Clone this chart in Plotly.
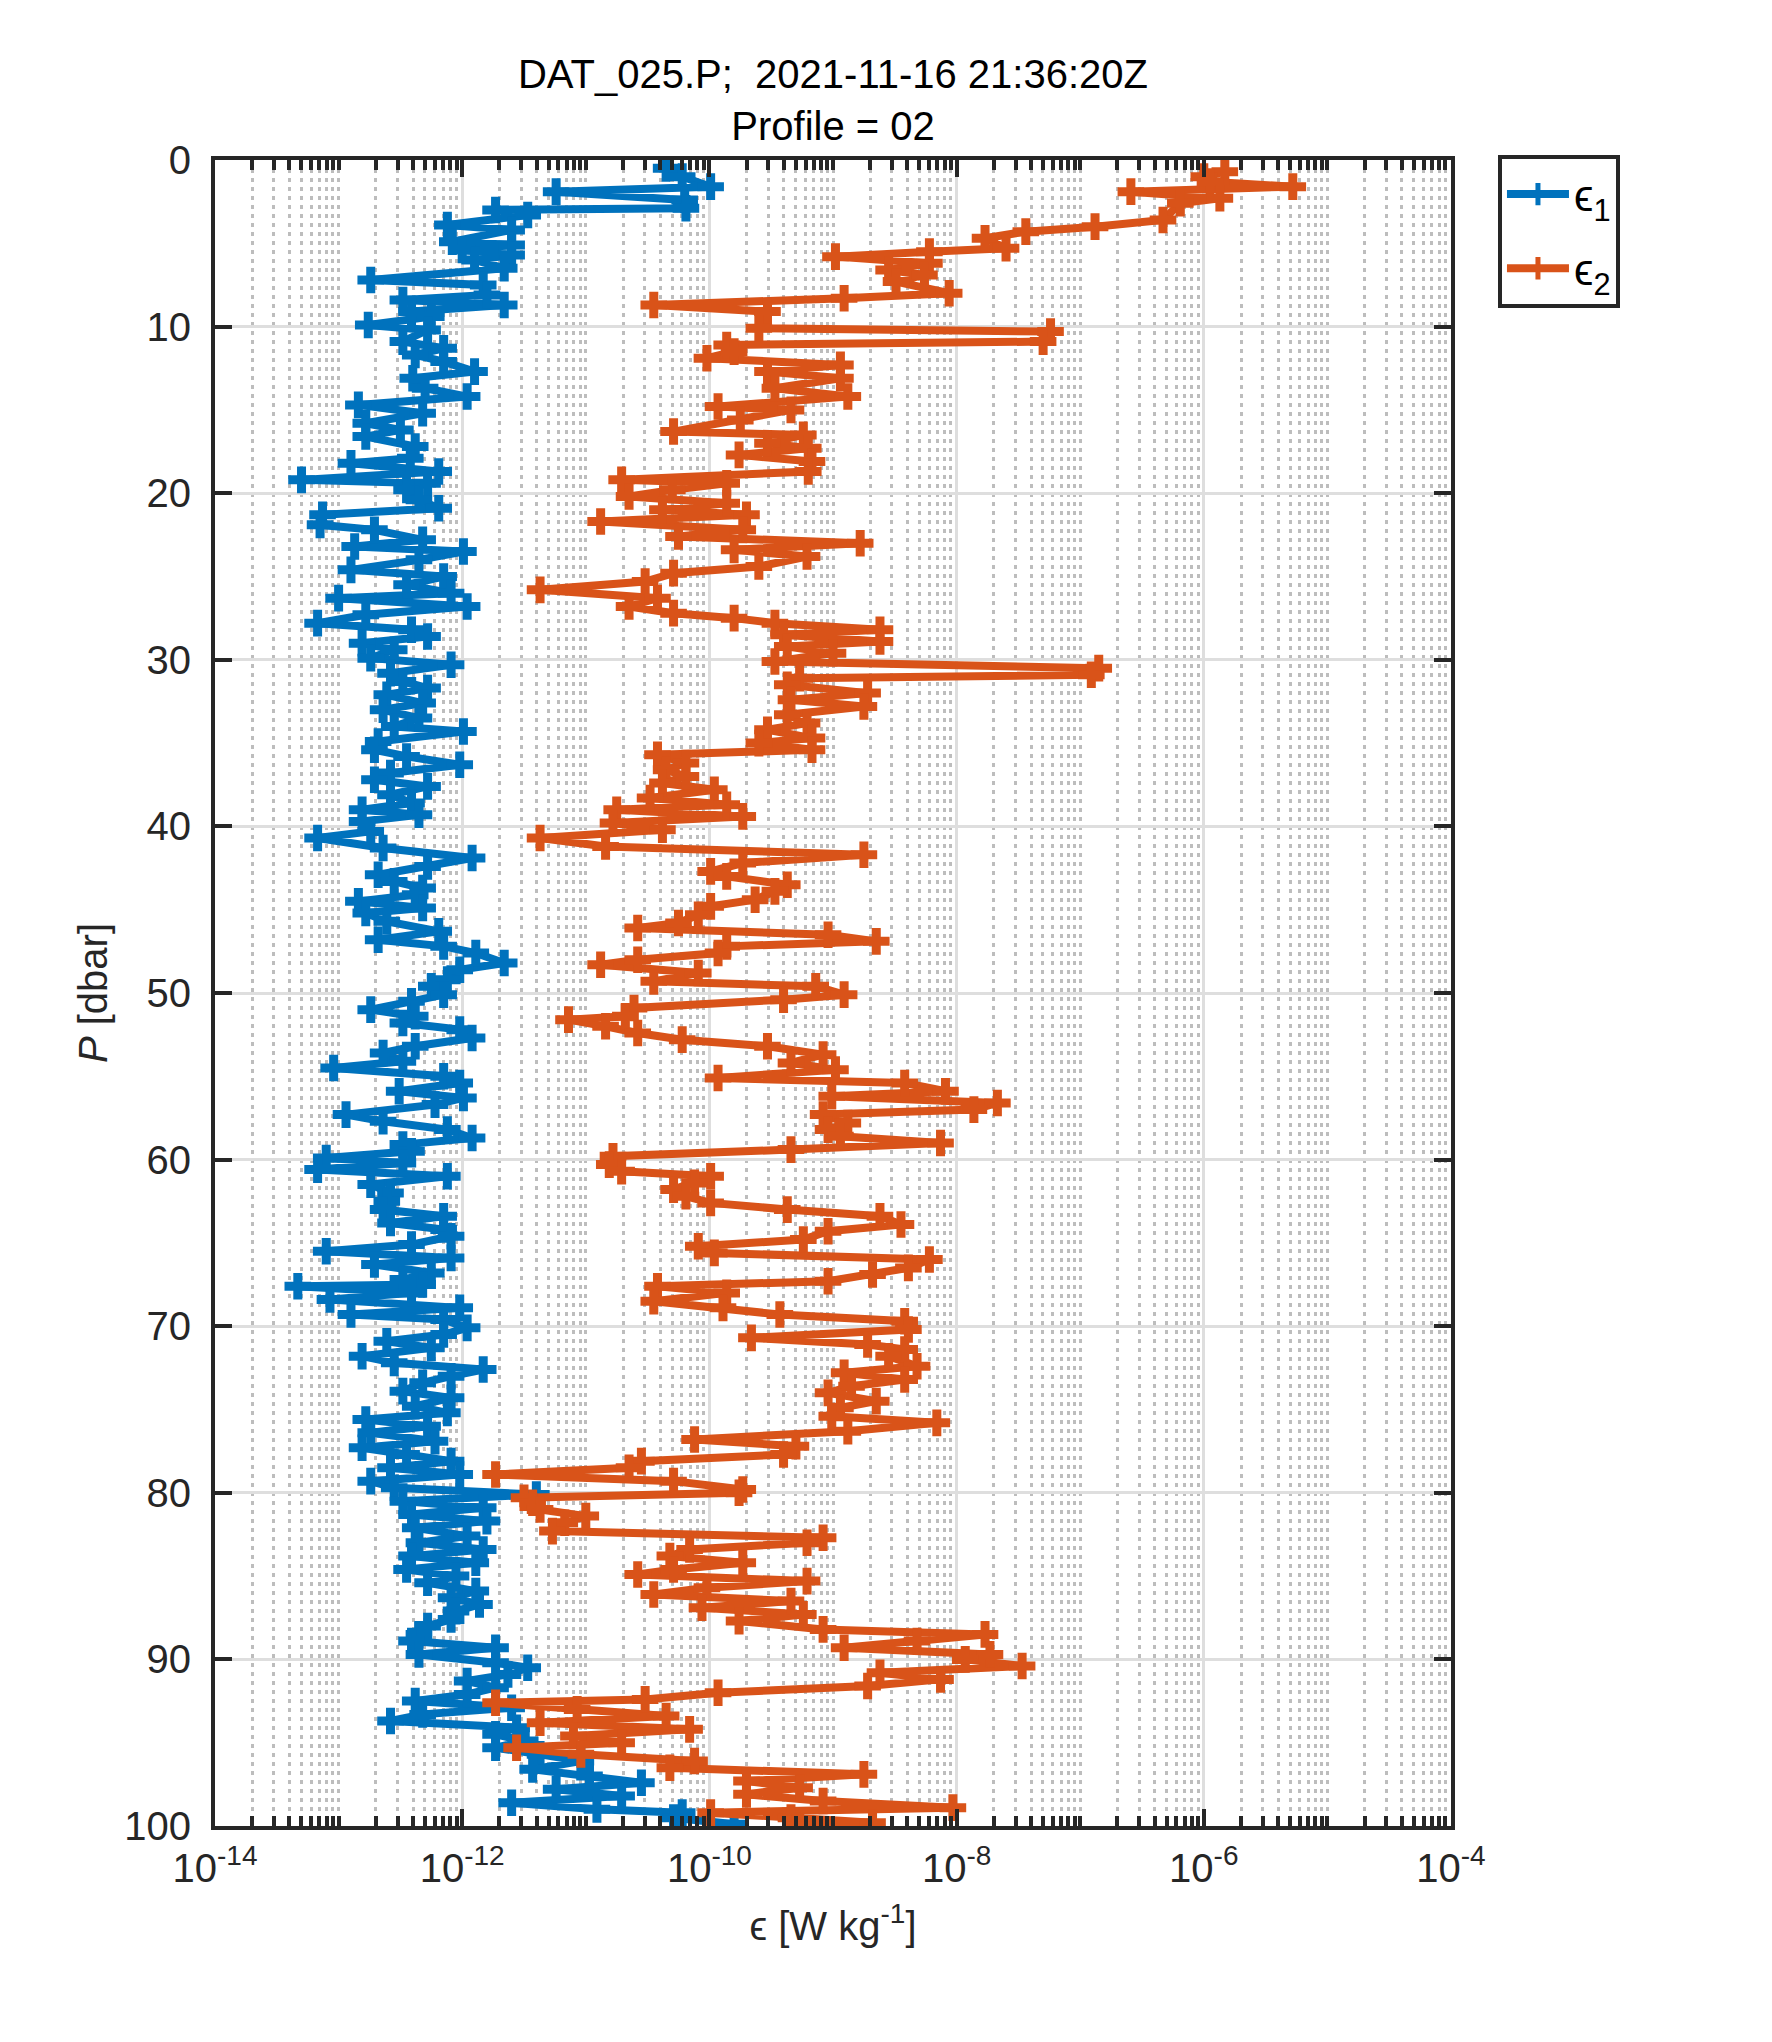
import plotly.graph_objects as go

# Shear probe 1: pressure [dbar] and log10 of epsilon [W/kg]
p1 = [0.5, 1.0, 1.6, 1.9, 2.4, 2.9, 3.0, 3.3, 3.9, 4.2, 4.9, 5.1, 5.4, 5.7, 6.0, 6.5, 7.2, 7.5, 8.1, 8.4,
      8.7, 9.1, 9.4, 9.9, 10.2, 10.9, 11.3, 11.7, 12.1, 12.7, 13.1, 13.7, 14.2, 14.7, 15.2, 15.8, 16.2, 16.6, 17.2, 17.9,
      18.2, 18.7, 19.2, 19.4, 19.8,
      20.4, 20.9, 21.3, 21.9, 22.2, 22.8, 23.2, 23.5, 24.0, 24.6, 25.0, 25.5, 26.0, 26.3, 26.8, 27.3, 27.8, 28.2, 28.6, 29.0,
      29.4, 29.9, 30.3, 30.8, 31.3, 31.7, 32.1, 32.6, 33.0, 33.5, 34.0, 34.3, 34.9, 35.4, 35.8, 36.3, 36.8, 37.2, 37.6, 38.1,
      38.6, 39.0, 39.3, 39.7,
      40.3, 40.7, 41.3, 41.9, 42.4, 42.9, 43.3, 43.7, 44.1, 44.5, 44.9, 45.2, 45.7, 46.3, 46.8, 47.2, 47.6, 48.2, 48.6, 49.2,
      49.6, 50.1, 50.5, 51.0, 51.4, 51.8, 52.2, 52.7, 53.2, 53.6, 54.1, 54.5, 55.0, 55.4, 55.9, 56.3, 56.7, 57.3, 57.7, 58.2,
      58.7, 59.1, 59.5, 59.9,
      60.2, 60.6, 61.0, 61.5, 62.0, 62.5, 63.0, 63.4, 63.8, 64.2, 64.6, 65.1, 65.5, 65.9, 66.3, 66.8, 67.2, 67.5, 67.6, 68.0,
      68.4, 68.9, 69.3, 69.6, 70.1, 70.5, 70.9, 71.3, 71.8, 72.2, 72.6, 73.0, 73.4, 73.9, 74.3, 74.8, 75.2, 75.6, 76.0, 76.4,
      76.9, 77.3, 77.7, 78.1, 78.5, 78.9, 79.3, 79.7, 80.1,
      80.5, 80.9, 81.3, 81.7, 82.1, 82.6, 83.0, 83.4, 83.8, 84.2, 84.6, 85.0, 85.4, 85.9, 86.3, 86.7, 87.1, 87.6, 88.0, 88.5,
      88.9, 89.3, 89.7, 90.2, 90.5, 90.9, 91.3, 91.7, 92.1, 92.5, 92.9, 93.3, 93.7, 94.1, 94.5, 94.9, 95.3, 95.7, 96.1, 96.6,
      97.0, 97.4, 97.8, 98.2, 98.6, 99.0, 99.2, 99.5, 99.9]
log_eps1 = [-10.35, -10.22, -9.99, -11.24, -10.2, -10.19, -11.73, -11.47, -12.12, -11.6, -12.08, -11.6, -12.0, -11.6, -11.9, -11.66, -12.74, -11.83, -11.8, -12.48,
            -11.66, -12.41, -12.25, -12.76, -12.28, -12.48, -12.15, -12.38, -12.15, -11.9, -12.4, -12.3, -11.96, -12.84, -12.32, -12.78, -12.5, -12.78, -12.38, -12.42,
            -12.9, -12.19, -13.3, -12.28, -12.45,
            -12.35, -12.19, -13.13, -13.15, -12.71, -12.32, -12.87, -11.99, -12.35, -12.9, -12.15, -12.45, -12.09, -13.0, -11.96, -12.78, -13.17, -12.41, -12.28, -12.81,
            -12.55, -12.74, -12.09, -12.58, -12.48, -12.28, -12.61, -12.32, -12.64, -12.35, -12.55, -11.99, -12.68, -12.71, -12.45, -12.02, -12.58, -12.71, -12.28, -12.58,
            -12.41, -12.81, -12.35, -12.81,
            -12.74, -13.17, -12.64, -11.92, -12.28, -12.68, -12.55, -12.32, -12.38, -12.84, -12.32, -12.78, -12.61, -12.19, -12.68, -12.15, -11.89, -11.66, -12.02, -12.12,
            -12.25, -12.15, -12.41, -12.74, -12.38, -12.48, -12.02, -11.92, -12.38, -12.64, -12.48, -13.04, -12.15, -12.02, -12.51, -11.99, -12.22, -12.94, -12.64, -12.12,
            -11.92, -12.48, -12.41, -13.1,
            -12.48, -13.17, -12.12, -12.74, -12.58, -12.61, -12.64, -12.15, -12.58, -12.15, -12.09, -12.41, -13.1, -12.09, -12.71, -12.25, -12.48, -12.32, -13.33, -12.41,
            -13.07, -12.02, -12.9, -12.15, -11.96, -12.15, -12.61, -12.25, -12.81, -12.55, -11.83, -12.09, -12.32, -12.48, -12.09, -12.38, -12.12, -12.78, -12.28, -12.74,
            -12.22, -12.81, -12.45, -12.09, -12.58, -12.02, -12.74, -12.55, -11.4,
            -12.48, -11.83, -12.41, -11.8, -12.38, -11.96, -12.35, -11.83, -12.41, -11.89, -12.45, -12.05, -12.28, -11.89, -12.09, -11.86, -12.05, -12.09, -12.28, -12.35,
            -12.41, -11.73, -12.35, -11.73, -11.47, -11.63, -11.96, -11.73, -11.96, -12.38, -11.6, -12.32, -12.58, -11.56, -11.73, -11.49, -11.73, -11.37, -11.04, -11.43,
            -10.97, -10.55, -11.24, -10.71, -11.6, -10.91, -10.22, -10.29, -9.8]

# Shear probe 2
p2 = [0.7, 1.0, 1.3, 1.6, 1.9, 2.3, 2.6, 3.6, 4.0, 4.3, 4.7, 5.3, 5.5, 5.8, 6.2, 6.6, 6.9, 7.3, 8.0, 8.3,
      8.7, 9.1, 10.1, 10.3, 10.9, 11.1, 11.5, 11.9, 12.3, 12.7, 13.1, 13.7, 14.2, 14.8, 15.0, 15.6, 16.3, 16.5, 17.0, 17.3,
      17.7, 18.1, 18.7, 19.2, 19.4, 19.8,
      20.2, 20.6, 21.0, 21.3, 21.7, 22.2, 22.6, 23.0, 23.4, 23.8, 24.4, 24.8, 25.3, 25.8, 26.3, 26.8, 27.2, 27.5, 27.8, 28.2,
      28.5, 28.9, 29.2, 29.6, 30.1, 30.5, 30.9, 31.1, 31.5, 32.0, 32.4, 32.8, 33.3, 33.8, 34.2, 34.7, 35.0, 35.4, 35.7, 36.2,
      36.6, 37.0, 37.4, 37.8, 38.3, 38.7, 39.0, 39.4, 39.8,
      40.2, 40.7, 41.2, 41.7, 42.2, 42.7, 43.0, 43.5, 43.9, 44.4, 44.8, 45.3, 45.8, 46.1, 46.5, 46.9, 47.2, 47.6, 48.0, 48.3,
      48.8, 49.3, 49.6, 50.1, 50.4, 50.9, 51.4, 51.6, 52.0, 52.4, 52.8, 53.2, 53.7, 54.2, 54.6, 55.1, 55.4, 55.9, 56.2, 56.6,
      57.0, 57.3, 57.8, 58.2, 58.6, 59.0, 59.4, 59.8,
      60.3, 60.7, 61.0, 61.4, 61.8, 62.2, 62.6, 63.0, 63.4, 63.9, 64.3, 64.8, 65.2, 65.6, 66.0, 66.5, 66.9, 67.3, 67.6, 68.0,
      68.5, 68.9, 69.3, 69.7, 70.2, 70.7, 71.1, 71.4, 71.8, 72.4, 72.8, 73.2, 73.6, 74.0, 74.5, 74.9, 75.4, 75.8, 76.3, 76.8,
      77.2, 77.7, 78.1, 78.5, 78.9, 79.3, 79.8,
      80.0, 80.3, 80.6, 81.0, 81.4, 81.8, 82.3, 82.7, 83.0, 83.4, 83.8, 84.2, 84.6, 84.9, 85.3, 85.7, 86.1, 86.5, 86.9, 87.3,
      87.7, 88.2, 88.5, 88.9, 89.3, 89.7, 90.0, 90.4, 90.8, 91.2, 91.6, 92.0, 92.4, 92.6, 93.0, 93.4, 93.8, 94.2, 94.6, 95.0,
      95.3, 95.7, 96.1, 96.5, 96.9, 97.3, 97.7, 98.1, 98.5, 98.9, 99.2, 99.5, 99.8, 100.0]
log_eps2 = [-5.83, -6.0, -5.95, -5.28, -6.59, -5.87, -6.19, -6.33, -6.88, -7.44, -7.77, -7.6, -8.22, -8.98, -8.22, -8.55, -8.26, -8.49, -8.06, -8.91,
            -10.45, -9.53, -9.6, -7.24, -7.3, -9.86, -9.8, -10.02, -8.94, -9.53, -8.94, -9.47, -8.88, -9.93, -9.34, -9.75, -10.29, -9.24, -9.53, -9.2,
            -9.76, -9.17, -9.2, -10.71, -9.86, -10.3,
            -10.65, -9.86, -10.38, -9.7, -10.88, -9.73, -10.25, -8.78, -9.8, -9.21, -9.6, -10.29, -10.52, -11.37, -10.42, -10.65, -10.29, -9.8, -9.47, -8.62,
            -9.4, -8.62, -9.37, -9.0, -9.47, -6.85, -6.91, -9.27, -9.37, -8.72, -9.34, -8.75, -9.37, -9.21, -9.53, -9.17, -9.6, -9.17, -10.42, -10.19,
            -10.35, -10.19, -10.38, -9.96, -10.48, -9.86, -10.75, -9.73, -10.78,
            -10.38, -11.37, -10.84, -8.75, -9.73, -9.99, -9.86, -9.37, -9.47, -9.63, -9.99, -10.09, -10.25, -10.58, -9.04, -8.65, -9.86, -9.93, -10.58, -10.88,
            -10.09, -10.45, -9.14, -8.91, -9.4, -10.61, -10.68, -11.14, -10.84, -10.58, -10.22, -9.53, -9.08, -9.34, -8.98, -9.93, -8.42, -8.09, -9.01, -7.67,
            -7.86, -9.08, -8.88, -9.04, -8.94, -8.13, -9.34, -10.78,
            -10.81, -10.71, -9.99, -10.12, -10.29, -10.19, -9.99, -9.37, -8.62, -8.45, -9.04, -9.24, -10.09, -9.96, -8.22, -8.39, -8.68, -9.04, -10.42, -9.86,
            -10.45, -9.89, -9.43, -8.42, -8.39, -9.66, -8.72, -8.42, -8.55, -8.32, -8.91, -8.42, -8.85, -9.04, -8.65, -8.94, -9.01, -8.16, -8.88, -10.12,
            -9.3, -9.4, -10.55, -10.65, -11.73, -10.29, -9.73,
            -9.76, -11.5, -11.43, -11.37, -11.0, -11.17, -11.27, -9.08, -9.21, -10.16, -10.32, -9.73, -10.29, -10.58, -9.21, -10.02, -10.45, -9.34, -10.06, -9.24,
            -9.76, -9.08, -7.77, -8.32, -8.91, -7.73, -7.93, -7.47, -8.62, -8.13, -8.72, -9.93, -10.52, -11.73, -11.07, -10.35, -11.37, -10.16, -11.1, -10.71,
            -11.56, -11.04, -10.12, -10.32, -8.75, -9.7, -9.27, -9.7, -9.08, -8.03, -9.99, -9.34, -8.68, -9.3]

eps1 = [10 ** v for v in log_eps1]
eps2 = [10 ** v for v in log_eps2]

x_tickvals = [1e-14, 1e-12, 1e-10, 1e-8, 1e-6, 1e-4]
x_ticktext = ['10<sup>-14</sup>', '10<sup>-12</sup>', '10<sup>-10</sup>',
              '10<sup>-8</sup>', '10<sup>-6</sup>', '10<sup>-4</sup>']

blue = '#0072BD'
orange = '#D95319'
axis_col = '#262626'

fig = go.Figure()
fig.add_trace(go.Scatter(
    x=eps1, y=p1, mode='lines+markers', name='ϵ<sub>1</sub>', legendgroup='a',
    line=dict(color=blue, width=8),
    marker=dict(symbol='cross-thin', size=19, line=dict(color=blue, width=9)),
))
fig.add_trace(go.Scatter(
    x=eps2, y=p2, mode='lines+markers', name='ϵ<sub>2</sub>', legendgroup='b',
    line=dict(color=orange, width=8),
    marker=dict(symbol='cross-thin', size=19, line=dict(color=orange, width=9)),
))

fig.update_layout(
    width=1772, height=2042,
    margin=dict(l=207, r=329, t=152, b=224),
    paper_bgcolor='white', plot_bgcolor='white',
    font=dict(family='Liberation Sans, Arial, sans-serif', size=40, color=axis_col),
    title=dict(
        text='DAT_025.P;  2021-11-16 21:36:20Z<br>Profile = 02',
        x=0.5, xanchor='center', xref='paper',
        y=0.961, yanchor='top', yref='container',
        font=dict(size=40, color='black'),
    ),
    legend=dict(
        x=1.038, y=1.003, xanchor='left', yanchor='top',
        bordercolor=axis_col, borderwidth=4, bgcolor='white',
        font=dict(size=44, color='black'),
        itemwidth=62, tracegroupgap=14,
    ),
)

fig.update_xaxes(
    type='log', range=[-14, -4],
    tickvals=x_tickvals, ticktext=x_ticktext,
    ticks='inside', ticklen=17, tickwidth=4, tickcolor=axis_col,
    showline=True, linecolor=axis_col, linewidth=4, mirror='allticks',
    showgrid=True, gridcolor='#dedede', gridwidth=2.5,
    zeroline=False, ticklabelstandoff=4,
    minor=dict(dtick='D1', ticks='inside', ticklen=10, tickwidth=4, tickcolor=axis_col,
               showgrid=True, gridcolor='#bdbdbd', gridwidth=2.5, griddash='4px,5px'),
    title=dict(text='ϵ [W kg<sup>-1</sup>]', font=dict(size=40), standoff=24),
)
fig.update_yaxes(
    range=[100, 0], tickvals=[0, 10, 20, 30, 40, 50, 60, 70, 80, 90, 100],
    ticks='inside', ticklen=17, tickwidth=4, tickcolor=axis_col,
    showline=True, linecolor=axis_col, linewidth=4, mirror='allticks',
    showgrid=True, gridcolor='#dedede', gridwidth=2.5,
    zeroline=False, ticklabelstandoff=12,
    title=dict(text='<i>P</i> [dbar]', font=dict(size=40), standoff=5),
)

fig.write_html('out.html')
